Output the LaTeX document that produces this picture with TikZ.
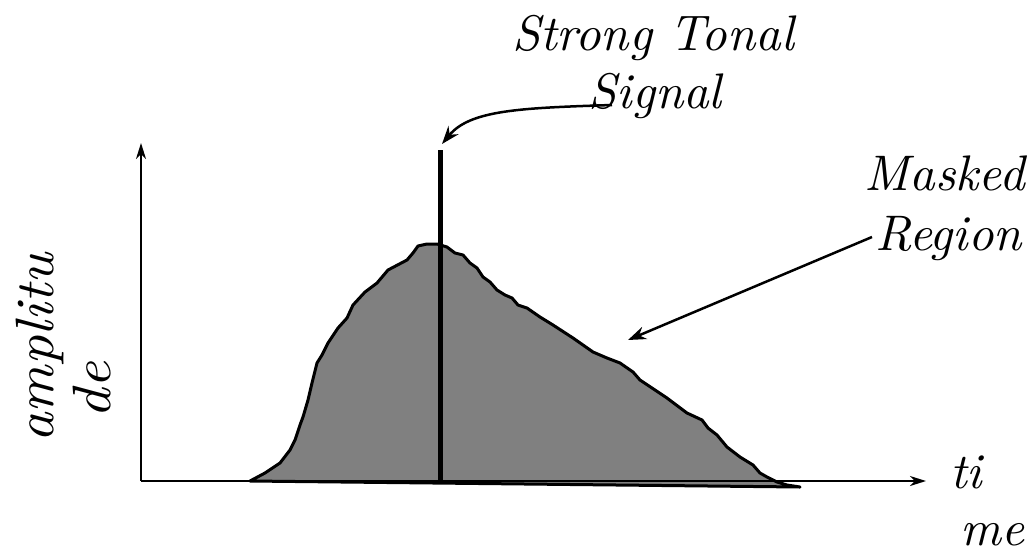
\documentclass[tikz,border=0pt]{standalone}
\usepackage{fontspec}
\newfontfamily\lblfont{lmroman10-italic.otf}
\usetikzlibrary{arrows.meta}
\begin{document}
\begin{tikzpicture}[x=1pt,y=-1pt,
  lbl/.style={font=\lblfont\fontsize{50}{60}\selectfont, inner sep=0pt, anchor=base},
  vlbl/.style={font=\lblfont\fontsize{54}{64}\selectfont, inner sep=0pt, anchor=base, rotate=90},
  axis/.style={line width=2pt, -{Stealth[length=16pt,width=10pt,inset=5pt]}},
  pointer/.style={line width=2.5pt, -{Stealth[length=18pt,width=13pt,inset=6pt]}},
  outline/.style={line width=3pt, line join=round}]
\useasboundingbox (0,0) rectangle (1036,555);
\def\maskpath{(250,481) -- (265,473) -- (280,463) -- (290,450) -- (295,440) -- (300,425)
  -- (303,417) -- (308,400) -- (312,383) -- (317,363) -- (322,355) -- (328,343)
  -- (332,337) -- (338,328) -- (347,318) -- (353,305) -- (365,292) -- (377,283)
  -- (388,270) -- (407,260) -- (413,253) -- (418,246) -- (427,244) -- (437,244)
  -- (447,247) -- (455,253) -- (463,255) -- (470,263) -- (477,268) -- (483,277)
  -- (490,282) -- (497,290) -- (505,295) -- (512,298) -- (518,305) -- (527,308)
  -- (540,317) -- (553,325) -- (573,338) -- (593,352) -- (607,358) -- (620,363)
  -- (633,372) -- (640,380) -- (667,398) -- (687,413) -- (702,420) -- (708,428)
  -- (717,435) -- (727,447) -- (740,457) -- (753,465) -- (760,473) -- (767,477)
  -- (777,482) -- (787,485) -- (800,487) -- cycle}
% masked region fill
\fill[gray] \maskpath;
% axes
\coordinate (origin) at (141,481);
\coordinate (ytip) at (141,143);
\coordinate (xtip) at (926,481);
\draw[axis] (origin) -- (ytip);
\draw[axis] (origin) -- (xtip);
% outline
\draw[outline] \maskpath;
% signal
\coordinate (sigtop) at (440,150);
\coordinate (sigbot) at (440,481);
\draw[line width=5pt] (sigbot) -- (sigtop);
% labels
\node[lbl] (st1) at (653,50) {Strong Tonal};
\node[lbl] (st2) at (655,108) {Signal};
\node[lbl, anchor=base east] (mr1) at (1025,190) {Masked};
\node[lbl, anchor=base east] (mr2) at (1022,250) {Region};
\node[vlbl] (am1) at (53,348) {\scalebox{1.07}[1]{amplitu}};
\node[vlbl] (am2) at (110,390) {\scalebox{1.07}[1]{de}};
\node[lbl, anchor=base west] (ti1) at (950,488) {ti};
\node[lbl, anchor=base west] (ti2) at (960,545) {me};
% pointers
\coordinate (sigstart) at (612,105);
\coordinate (sigend) at (442,144);
\draw[pointer] (sigstart) .. controls (520,108) and (470,110) .. (sigend);
\coordinate (mstart) at (872,237);
\coordinate (mend) at (628,340);
\draw[pointer] (mstart) -- (mend);
\end{tikzpicture}
\end{document}
